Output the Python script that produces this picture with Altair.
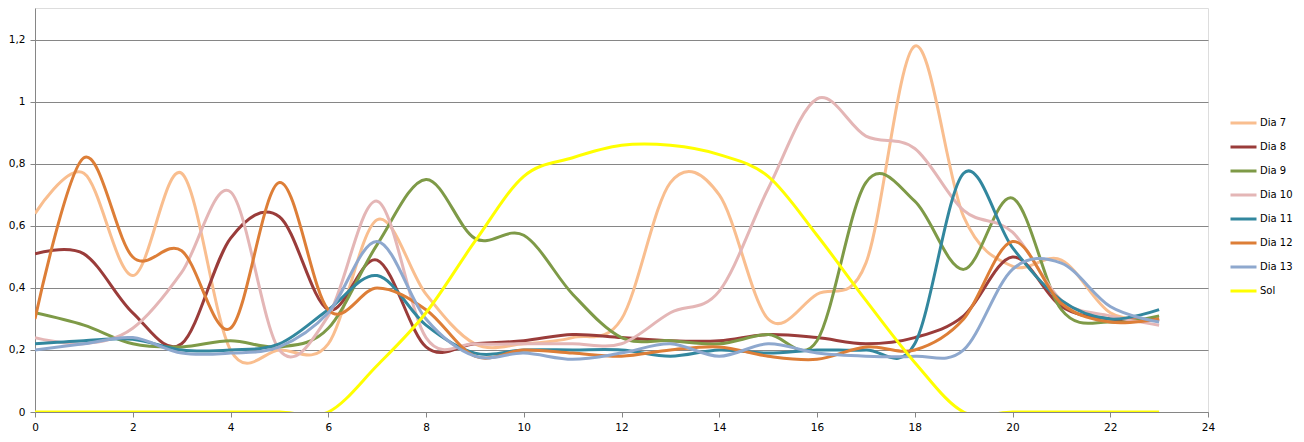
import altair as alt
import pandas as pd

hours = list(range(24))
series_names = ["Dia 7", "Dia 8", "Dia 9", "Dia 10", "Dia 11", "Dia 12", "Dia 13", "Sol"]
series_colors = ["#F9BE8F", "#9A3C3A", "#7E9A47", "#E4B6B6", "#32879E", "#DD7E37", "#8EA8CE", "#FFFF00"]

dia7 = [0.64, 0.77, 0.44, 0.77, 0.20, 0.20, 0.22, 0.62, 0.38, 0.22, 0.22, 0.24,
        0.30, 0.74, 0.70, 0.30, 0.38, 0.48, 1.18, 0.63, 0.47, 0.49, 0.32, 0.30]
dia8 = [0.51, 0.51, 0.32, 0.22, 0.56, 0.63, 0.33, 0.49, 0.21, 0.22, 0.23, 0.25,
        0.24, 0.23, 0.23, 0.25, 0.24, 0.22, 0.24, 0.31, 0.50, 0.34, 0.30, 0.30]
dia9 = [0.32, 0.28, 0.22, 0.21, 0.23, 0.21, 0.27, 0.54, 0.75, 0.56, 0.57, 0.38,
        0.24, 0.23, 0.22, 0.25, 0.23, 0.74, 0.68, 0.46, 0.69, 0.33, 0.29, 0.31]
dia10 = [0.24, 0.22, 0.27, 0.45, 0.71, 0.20, 0.31, 0.68, 0.24, 0.22, 0.22, 0.22,
         0.22, 0.32, 0.39, 0.72, 1.01, 0.89, 0.85, 0.65, 0.58, 0.36, 0.31, 0.28]
dia11 = [0.22, 0.23, 0.235, 0.20, 0.20, 0.22, 0.33, 0.44, 0.28, 0.19, 0.20, 0.20,
         0.20, 0.18, 0.20, 0.19, 0.20, 0.20, 0.22, 0.77, 0.53, 0.36, 0.30, 0.33]
dia12 = [0.30, 0.82, 0.50, 0.52, 0.27, 0.74, 0.33, 0.40, 0.33, 0.18, 0.20, 0.19,
         0.18, 0.20, 0.21, 0.18, 0.17, 0.21, 0.20, 0.30, 0.55, 0.35, 0.29, 0.30]
dia13 = [0.20, 0.22, 0.24, 0.19, 0.19, 0.21, 0.32, 0.55, 0.30, 0.18, 0.19, 0.17,
         0.19, 0.22, 0.18, 0.22, 0.19, 0.18, 0.18, 0.20, 0.46, 0.48, 0.34, 0.29]
sol = [0, 0, 0, 0, 0, 0, 0, 0.15, 0.32, 0.55, 0.76, 0.82,
       0.86, 0.86, 0.83, 0.76, 0.57, 0.36, 0.16, 0, 0, 0, 0, 0]

x_ticks = list(range(0, 25, 2))
y_ticks = [0, 0.2, 0.4, 0.6, 0.8, 1.0, 1.2]

all_series = [dia7, dia8, dia9, dia10, dia11, dia12, dia13, sol]
rows = []
for order, (name, vals) in enumerate(zip(series_names, all_series)):
    for h, v in zip(hours, vals):
        rows.append({"hora": h, "valor": v, "serie": name, "ordem": order})
df = pd.DataFrame(rows)

FONT = "DejaVu Sans"
GRID = "#868686"

chart = alt.Chart(df).mark_line(
    interpolate="cardinal", strokeWidth=3, clip=True
).encode(
    x=alt.X("hora:Q",
            scale=alt.Scale(domain=[0, 24], nice=False, zero=False),
            axis=alt.Axis(values=x_ticks, title=None, grid=False, tickSize=5,
                          tickColor=GRID, domainColor=GRID, labelPadding=5,
                          labelFont=FONT, labelFontSize=10.5, labelColor="#000000",
                          labelFlush=False)),
    y=alt.Y("valor:Q",
            scale=alt.Scale(domain=[0, 1.303], nice=False, zero=True),
            axis=alt.Axis(values=y_ticks, title=None, grid=True, gridColor=GRID,
                          gridWidth=1, tickSize=5, tickColor=GRID, domainColor=GRID,
                          labelPadding=5, labelFont=FONT, labelFontSize=10.5,
                          labelColor="#000000",
                          labelExpr="replace(format(datum.value, '.2~f'), '.', ',')")),
    color=alt.Color("serie:N",
                    scale=alt.Scale(domain=series_names, range=series_colors),
                    legend=alt.Legend(title=None, orient="none", legendX=1194, legendY=108,
                                      padding=0, symbolType="stroke", symbolSize=676,
                                      symbolStrokeWidth=3, labelFont=FONT,
                                      labelFontSize=10, labelColor="#000000",
                                      labelOffset=2, clipHeight=14, rowPadding=10)),
    order=alt.Order("ordem:Q"),
    detail="serie:N",
).properties(
    width=1173, height=404, autosize="none",
    padding={"left": 27, "top": 0, "right": 88, "bottom": 30},
).configure_view(stroke=None).configure(background="#FFFFFF")

chart.save("out.html", embed_options={"renderer": "svg", "actions": False})
